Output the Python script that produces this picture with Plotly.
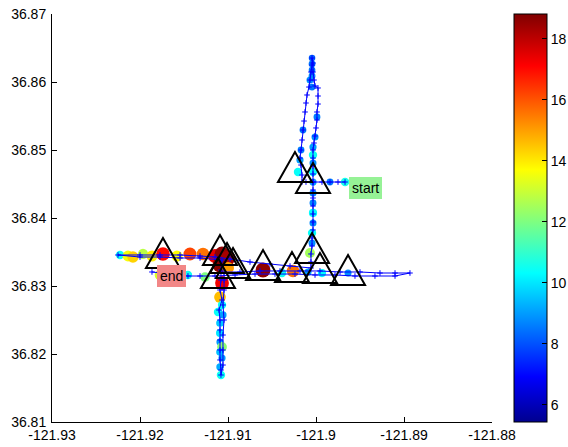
import plotly.graph_objects as go

# ---------------- data ----------------
# GPS track (lon, lat) in travel order
track_lon = [-121.8967, -121.8975, -121.89841, -121.89932, -121.90034, -121.90114, -121.90159,
             -121.90159, -121.9017, -121.90182, -121.9017, -121.90159, -121.90148, -121.90136,
             -121.90125, -121.90114, -121.90102, -121.9008, -121.90068, -121.90057, -121.90045, -121.90045,
             -121.90034, -121.90034, -121.90023, -121.90011, -121.89977, -121.89977, -121.89977,
             -121.89989, -121.89989, -121.9, -121.90011, -121.90023, -121.90034, -121.90034,
             -121.90034, -121.90034, -121.90034, -121.90034, -121.90034, -121.90034, -121.90034,
             -121.90034, -121.90034, -121.90045, -121.90045, -121.90057, -121.90057, -121.90057,
             -121.90295, -121.90523, -121.9075, -121.90977, -121.91148, -121.91318, -121.91545,
             -121.91773, -121.92, -121.9225,
             -121.92, -121.91773, -121.91545, -121.91318, -121.91068,
             -121.9108, -121.9108, -121.91091, -121.91068, -121.91102, -121.91091, -121.91091,
             -121.91091, -121.91091, -121.91091, -121.9108, -121.9108,
             -121.91057, -121.91057, -121.91057, -121.91045, -121.91057, -121.91045, -121.91045, -121.91045,
             -121.90864, -121.90636, -121.90409, -121.90182, -121.89955, -121.89727, -121.895,
             -121.89273, -121.89102, -121.88932,
             -121.89102, -121.8933, -121.89557, -121.89784, -121.90011, -121.90239, -121.90466,
             -121.90693, -121.9092, -121.91148, -121.91318, -121.91455, -121.91659, -121.91864]
track_lat = [36.84529, 36.84529, 36.84529, 36.84529, 36.84529, 36.84529, 36.84529,
             36.84632, 36.84779, 36.84882, 36.85, 36.85147, 36.85294, 36.85426,
             36.85559, 36.85691, 36.85809, 36.85926, 36.86029, 36.86147, 36.8625, 36.86353,
             36.86279, 36.86147, 36.86029, 36.85941, 36.85912, 36.85794, 36.85676,
             36.85559, 36.85441, 36.85324, 36.85206, 36.85103, 36.85, 36.84882,
             36.84765, 36.84647, 36.84529, 36.84412, 36.84294, 36.84176, 36.84059,
             36.83941, 36.83824, 36.83706, 36.83588, 36.83471, 36.83353, 36.83265,
             36.83294, 36.83324, 36.83353, 36.83397, 36.83426, 36.83441, 36.83456,
             36.83456, 36.83456, 36.83456,
             36.83426, 36.83426, 36.83412, 36.83412, 36.83382,
             36.83235, 36.83088, 36.82941, 36.82794, 36.82647, 36.825, 36.82353,
             36.82206, 36.82059, 36.81912, 36.81765, 36.81691,
             36.81838, 36.82059, 36.82279, 36.825, 36.82721, 36.82941, 36.83088, 36.83206,
             36.83206, 36.83221, 36.83221, 36.83221, 36.83221, 36.83206, 36.83206,
             36.83191, 36.83191, 36.83191,
             36.83147, 36.83147, 36.83147, 36.83162, 36.83162, 36.83176, 36.83176,
             36.83176, 36.83162, 36.83147, 36.83147, 36.83147, 36.83176, 36.83206]

# speed samples (lon, lat, speed)
speed_lon = [-121.8967, -121.89841, -121.90205, -121.90182, -121.9017, -121.90148,
             -121.90045, -121.90045, -121.90045, -121.90045, -121.90068, -121.90045,
             -121.89989, -121.90011, -121.90034, -121.90034, -121.90034, -121.90034,
             -121.90034, -121.90034, -121.90034, -121.90034, -121.90034, -121.90045,
             -121.90045, -121.90068,
             -121.90602, -121.90261, -121.90091, -121.89932, -121.89636, -121.90386,
             -121.92227, -121.92136, -121.9208, -121.91966, -121.91864, -121.91739,
             -121.9158, -121.91432, -121.91284, -121.91148, -121.91068, -121.91,
             -121.91091, -121.91, -121.91773, -121.91455, -121.91261,
             -121.91068, -121.91091, -121.91068, -121.91114, -121.91057, -121.91091,
             -121.91091, -121.91091, -121.91068, -121.91091, -121.91068, -121.91091, -121.9108]
speed_lat = [36.84529, 36.84529, 36.84676, 36.84853, 36.85, 36.85294,
             36.86353, 36.86265, 36.86176, 36.86088, 36.86029, 36.85926,
             36.85485, 36.85191, 36.85044, 36.84926, 36.84809, 36.84676,
             36.84529, 36.84368, 36.84221, 36.84074, 36.83926, 36.83779,
             36.83632, 36.83485,
             36.83235, 36.83221, 36.83206, 36.83191, 36.83191, 36.83191,
             36.83456, 36.83441, 36.83426, 36.83471, 36.83441, 36.83471,
             36.83441, 36.83471, 36.83471, 36.83441, 36.83471, 36.83412,
             36.83309, 36.83265, 36.83162, 36.83162, 36.83132,
             36.83044, 36.82838, 36.82721, 36.82618, 36.82574, 36.82456,
             36.82309, 36.82176, 36.82103, 36.82029, 36.81941, 36.81809, 36.81691]
speed_val = [10.6, 8.6, 10.4, 9.0, 8.6, 8.5,
             8.2, 8.5, 8.4, 8.6, 8.8, 8.5,
             8.6, 8.8, 9.0, 10.5, 8.8, 10.4,
             9.0, 8.8, 8.7, 10.3, 8.8, 10.4,
             8.8, 12.5,
             18.6, 15.6, 9.0, 10.3, 8.8, 10.5,
             10.5, 13.6, 14.3, 12.8, 13.9, 17.0,
             13.7, 16.2, 15.6, 17.4, 18.6, 18.3,
             18.7, 15.0, 13.2, 10.5, 12.0,
             17.3, 14.6, 10.4, 10.4, 9.0, 9.6,
             10.0, 9.0, 12.2, 9.5, 9.0, 9.2, 10.5]

# stop locations (triangles)
stop_lon = [-121.90239, -121.90034, -121.91739, -121.91091, -121.91011, -121.90943,
            -121.91114, -121.90602, -121.90273, -121.90045, -121.89955, -121.89636]
stop_lat = [36.8475, 36.84588, 36.83485, 36.83529, 36.83412, 36.83338,
            36.83191, 36.83309, 36.83279, 36.83559, 36.83265, 36.83235]

x_ticks = [-121.93, -121.92, -121.91, -121.90, -121.89, -121.88]
x_ticktext = ['-121.93', '-121.92', '-121.91', '-121.9', '-121.89', '-121.88']
y_ticks = [36.81, 36.82, 36.83, 36.84, 36.85, 36.86, 36.87]
y_ticktext = ['36.81', '36.82', '36.83', '36.84', '36.85', '36.86', '36.87']
cbar_ticks = [6, 8, 10, 12, 14, 16, 18]
speed_min, speed_max = 5.44, 18.81

# ---------------- figure ----------------
FONT = 'Liberation Sans, Arial, sans-serif'
jet = [[0.0, 'rgb(0,0,143)'], [0.111, 'rgb(0,0,255)'], [0.365, 'rgb(0,255,255)'],
       [0.619, 'rgb(255,255,0)'], [0.873, 'rgb(255,0,0)'], [1.0, 'rgb(128,0,0)']]

fig = go.Figure()

fig.add_trace(go.Scatter(
    x=speed_lon, y=speed_lat, mode='markers',
    marker=dict(size=[0.8 * v for v in speed_val], color=speed_val,
                colorscale=jet, cmin=speed_min, cmax=speed_max,
                line=dict(width=0), opacity=1,
                colorbar=dict(
                    x=1.05, xanchor='left',
                    y=0, yanchor='bottom',
                    len=1.0, lenmode='fraction',
                    thickness=33, thicknessmode='pixels',
                    xpad=0, ypad=0,
                    outlinewidth=1, outlinecolor='black',
                    tickvals=cbar_ticks, ticks='inside', ticklen=5,
                    tickcolor='black', tickfont=dict(family=FONT, size=14, color='black'))),
    showlegend=False, hoverinfo='skip'))

fig.add_trace(go.Scatter(
    x=track_lon, y=track_lat, mode='lines+markers',
    line=dict(color='rgb(0,0,255)', width=1),
    marker=dict(symbol='cross-thin-open', size=4, line=dict(color='rgb(0,0,255)', width=1)),
    showlegend=False, hoverinfo='skip'))

# stop triangles: custom glyph anchored at data positions
for lo, la in zip(stop_lon, stop_lat):
    fig.add_shape(type='path', xref='x', yref='y',
                  xsizemode='pixel', ysizemode='pixel',
                  xanchor=lo, yanchor=la,
                  path='M-17,-15 L17,-15 L0,15 Z',
                  line=dict(color='black', width=2), fillcolor='rgba(0,0,0,0)',
                  layer='above')

fig.add_annotation(x=track_lon[0], y=track_lat[0], xref='x', yref='y',
                   text='start', showarrow=False, xanchor='left', yanchor='middle',
                   xshift=4, yshift=-6, bgcolor='rgb(150,242,150)', borderpad=3, borderwidth=0,
                   font=dict(family=FONT, size=14, color='black'))
fig.add_annotation(x=track_lon[-1], y=track_lat[-1], xref='x', yref='y',
                   text='end', showarrow=False, xanchor='left', yanchor='middle',
                   xshift=5, yshift=-4, bgcolor='rgb(242,135,135)', borderpad=3, borderwidth=0,
                   font=dict(family=FONT, size=14, color='black'))

axis_common = dict(showline=True, linecolor='black', linewidth=1, mirror=False,
                   ticks='inside', ticklen=5, tickcolor='black', showgrid=False,
                   zeroline=False, automargin=False,
                   tickfont=dict(family=FONT, size=14, color='black'))
fig.update_xaxes(range=[-121.93, -121.88], tickvals=x_ticks, ticktext=x_ticktext,
                 ticklabelstandoff=0, **axis_common)
fig.update_yaxes(range=[36.81, 36.87], tickvals=y_ticks, ticktext=y_ticktext,
                 ticklabelstandoff=2, **axis_common)

fig.update_layout(width=568, height=447,
                  margin=dict(l=52, r=76, t=14, b=25, autoexpand=False),
                  paper_bgcolor='white', plot_bgcolor='white',
                  font=dict(family=FONT, size=14, color='black'))

fig.write_html('out.html', config={'displayModeBar': False},
               post_script="document.body.style.margin='0px';document.body.style.overflow='hidden';")
